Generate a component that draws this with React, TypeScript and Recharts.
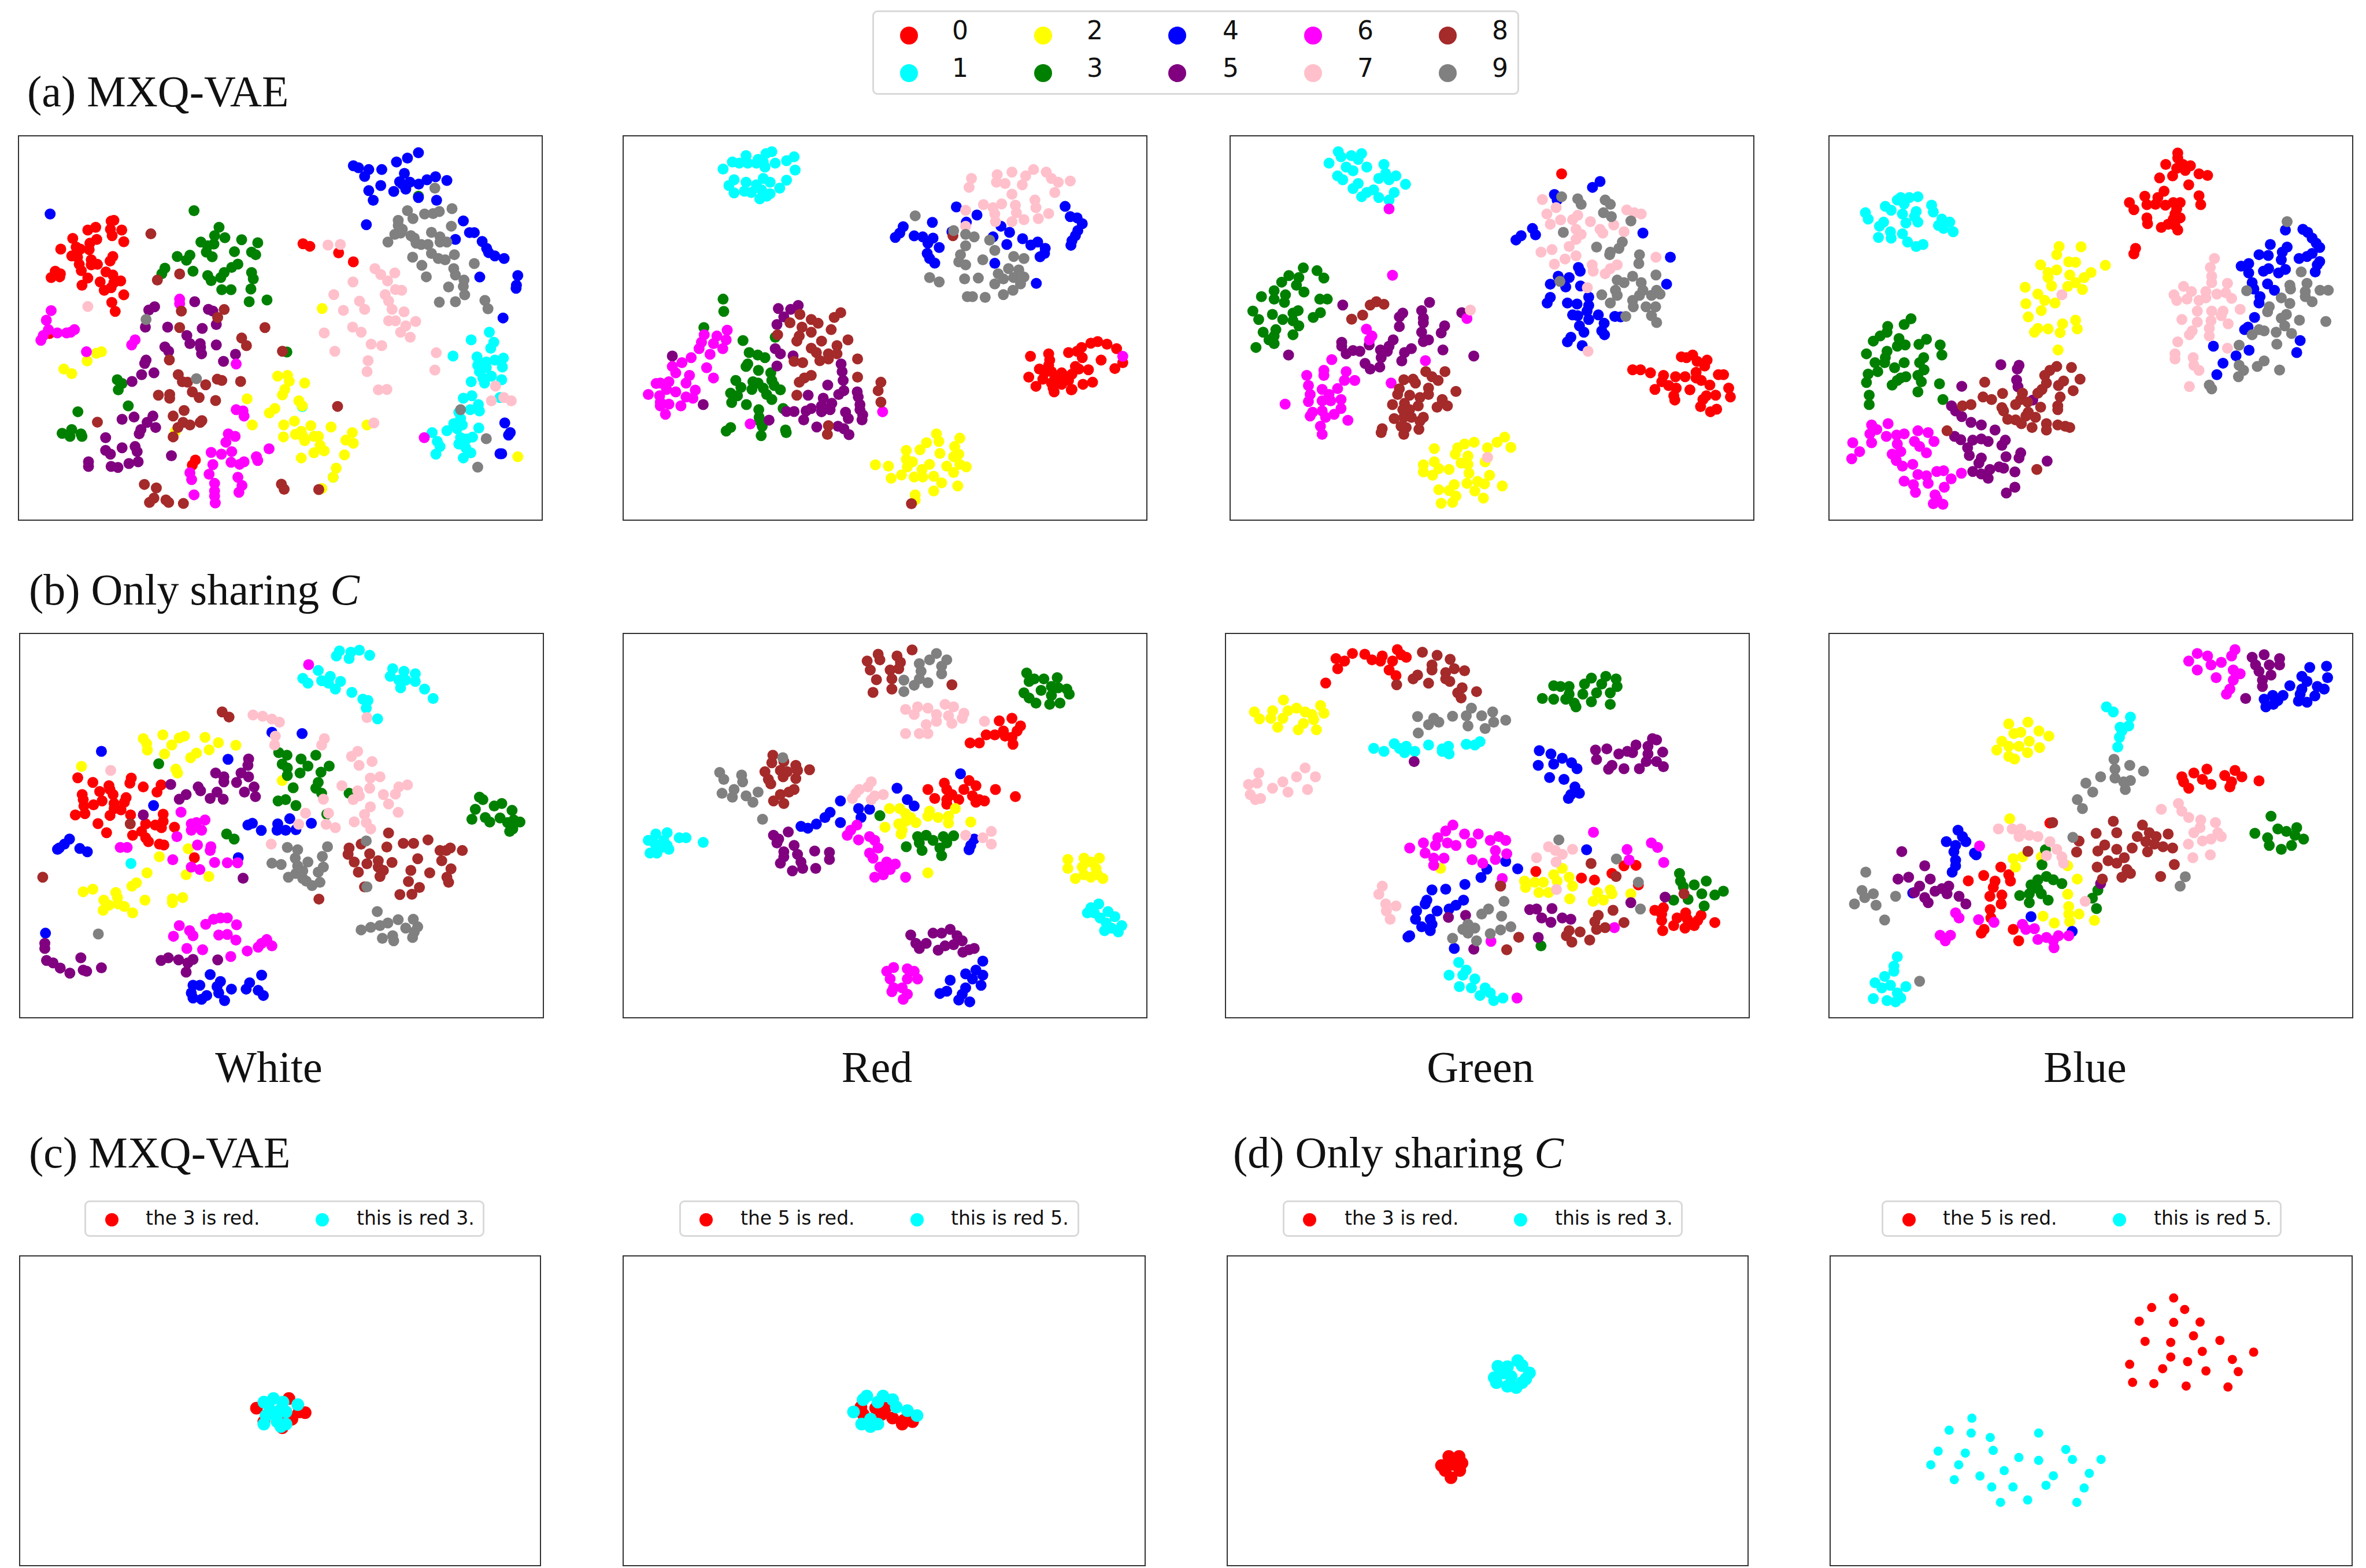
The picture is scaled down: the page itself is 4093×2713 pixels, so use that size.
import React from "react";
import { ScatterChart, Scatter, XAxis, YAxis } from "recharts";

type Pt = [number, number];

const digitLabels = ["0", "1", "2", "3", "4", "5", "6", "7", "8", "9"];
const digitColors = ["#ff0000", "#00ffff", "#ffff00", "#008000", "#0000ff", "#800080", "#ff00ff", "#ffc0cb", "#a52a2a", "#808080"];
const pairColors = ["#ff0000", "#00ffff"];
const columnNames = ["White", "Red", "Green", "Blue"];

// (a) MXQ-VAE, one list per digit
const mxqWhite: Pt[][] = [
  [[298,355],[290,358],[288,390],[321,393],[293,415],[327,439],[222,393],[245,382],[178,426],[248,430],[228,445],[188,460],[200,468],[143,468],[226,470],[175,495],[192,500],[295,497],[287,515],[232,510],[197,528],[232,530],[250,528],[203,553],[127,555],[115,580],[142,565],[140,577],[275,558],[295,570],[222,582],[205,610],[258,597],[318,593],[298,600],[290,620],[270,630],[327,648],[292,678],[302,713],[850,447],[870,457],[954,483],[997,518],[536,1298],[527,1318],[110,800]],
  [[1394,795],[1341,825],[1407,835],[1398,858],[1288,889],[1358,892],[1435,897],[1410,905],[1385,912],[1360,925],[1432,932],[1385,935],[1365,950],[1400,968],[1375,975],[1430,982],[1341,990],[1380,995],[1425,1052],[1318,1055],[1343,1045],[1362,1080],[1338,1100],[1365,1105],[1305,1110],[1310,1135],[1290,1155],[1315,1160],[1300,1175],[1270,1183],[1227,1190],[1363,1172],[1345,1208],[1310,1210],[1328,1215],[1242,1225],[1250,1245],[1305,1235],[1325,1250],[1238,1275],[1340,1270],[1318,1290],[848,1088],[938,1366]],
  [[906,702],[262,872],[247,878],[220,908],[152,940],[175,958],[776,968],[805,965],[810,988],[855,995],[797,1020],[790,1042],[687,1057],[838,1065],[848,1085],[768,1095],[752,1113],[702,1160],[794,1160],[825,1145],[873,1163],[932,1168],[845,1185],[828,1197],[850,1205],[882,1205],[895,1205],[793,1207],[855,1222],[994,1190],[975,1220],[997,1232],[900,1240],[882,1270],[912,1262],[971,1278],[845,1290],[947,1330],[938,1366],[1037,1160],[1477,1285],[478,1185],[905,1410]],
  [[532,317],[605,382],[592,415],[622,423],[671,431],[718,443],[552,440],[590,448],[572,455],[568,480],[650,478],[585,498],[700,480],[712,490],[483,497],[520,492],[510,512],[660,527],[642,540],[447,543],[438,565],[529,555],[700,560],[572,572],[620,560],[610,580],[582,592],[705,585],[613,628],[640,628],[698,625],[693,675],[745,668],[803,873],[308,982],[322,997],[311,1022],[340,1085],[193,1108],[175,1178],[147,1193],[202,1195],[170,1205],[205,1205],[1187,260]],
  [[1187,89],[1155,110],[1123,125],[997,140],[1012,148],[1042,155],[1080,155],[1030,182],[1146,170],[1237,183],[1212,195],[1270,198],[1132,203],[1162,205],[1188,212],[1140,212],[1077,218],[1042,238],[1150,232],[1115,241],[1187,265],[1055,276],[1240,276],[112,330],[1035,372],[1318,357],[1295,430],[1336,403],[1350,403],[1373,438],[1386,465],[1392,482],[1410,495],[1437,505],[1366,578],[1477,572],[1473,610],[1472,622],[1434,739],[1439,1152],[1455,1190],[1450,1200],[1430,1273],[1425,1273]],
  [[534,675],[417,695],[400,708],[574,705],[587,712],[597,765],[390,775],[455,775],[556,780],[511,808],[520,840],[550,840],[597,845],[551,855],[447,853],[458,870],[554,880],[653,882],[618,910],[392,905],[388,918],[415,955],[379,962],[351,989],[322,1138],[357,1129],[412,1125],[395,1150],[420,1170],[377,1178],[372,1195],[274,1210],[322,1250],[360,1245],[274,1260],[288,1275],[366,1265],[466,1281],[224,1305],[224,1323],[369,1305],[342,1312],[290,1323],[310,1327]],
  [[115,710],[490,665],[490,683],[101,748],[107,785],[133,798],[183,785],[160,798],[172,795],[92,808],[85,827],[360,825],[350,845],[218,872],[655,920],[655,1100],[675,1105],[678,1125],[632,1195],[652,1205],[625,1228],[642,1265],[582,1268],[612,1275],[751,1254],[714,1285],[718,1300],[640,1307],[678,1305],[665,1315],[587,1316],[576,1354],[520,1348],[525,1375],[660,1366],[672,1398],[663,1425],[592,1390],[592,1420],[592,1440],[532,1435],[594,1467],[1204,1210]],
  [[923,452],[959,450],[1060,545],[1118,562],[1077,568],[1097,593],[996,597],[1120,627],[1138,630],[940,647],[1090,647],[1015,673],[1100,672],[222,694],[968,709],[1030,705],[1110,705],[1145,715],[1100,750],[1120,750],[1179,753],[995,775],[1150,770],[1020,795],[1135,795],[912,798],[1163,815],[1049,842],[1080,848],[943,870],[1239,876],[1040,907],[1235,944],[1037,950],[1412,1007],[1070,1022],[1095,1020],[1436,1052],[1458,1065],[1400,1065],[1057,1152]],
  [[406,408],[425,590],[490,566],[495,712],[620,706],[601,737],[490,777],[739,777],[671,818],[685,848],[790,870],[460,904],[486,962],[498,990],[513,992],[600,980],[613,985],[668,989],[566,1002],[527,1030],[428,1043],[461,1040],[461,1055],[547,1052],[595,1064],[951,1087],[503,1103],[471,1125],[500,1150],[555,1143],[250,1149],[485,1170],[520,1160],[550,1150],[471,1207],[387,1394],[422,1408],[787,1393],[795,1413],[896,1414],[415,1448],[402,1465],[450,1455],[458,1465],[501,1469]],
  [[1235,228],[1285,309],[1155,317],[1248,320],[1230,328],[1205,330],[1171,348],[1128,355],[1128,375],[1283,378],[1140,390],[1225,402],[1118,410],[1135,405],[1165,415],[1250,420],[1175,425],[1098,440],[1180,445],[1250,440],[1270,440],[1195,450],[1215,450],[1225,485],[1292,490],[1245,505],[1170,500],[1265,510],[1197,532],[1350,525],[1290,545],[1295,570],[1210,577],[1320,590],[1275,617],[1318,615],[1322,648],[1248,677],[1295,675],[1381,670],[1390,703],[392,745],[539,978],[1385,1214],[1360,1326],[1310,1100]],
];

const mxqRed: Pt[][] = [
  [[1209,890],[1262,880],[1265,905],[1262,925],[1235,940],[1250,955],[1270,950],[1300,955],[1204,972],[1245,980],[1280,975],[1330,960],[1350,940],[1378,943],[1320,875],[1358,855],[1385,838],[1405,832],[1432,842],[1460,860],[1360,895],[1345,870],[1415,905],[1478,915],[1455,938],[1225,1008],[1275,1015],[1300,1000],[1330,1020],[1362,1000],[1390,992],[1278,1030],[1328,1022],[1320,985],[1305,965],[1340,930],[1270,995]],
  [[455,85],[438,92],[380,100],[415,115],[520,105],[340,125],[498,120],[385,130],[430,125],[465,130],[360,130],[410,130],[435,145],[313,153],[523,157],[345,195],[498,197],[430,190],[380,205],[450,205],[330,218],[410,215],[375,240],[425,235],[478,228],[345,247],[395,245],[450,250],[420,270],[440,260]],
  [[935,1195],[1003,1212],[942,1225],[906,1230],[988,1245],[847,1260],[887,1258],[945,1272],[1000,1275],[985,1285],[847,1295],[757,1317],[795,1322],[865,1305],[850,1325],[965,1322],[1022,1325],[1003,1315],[915,1315],[893,1335],[985,1347],[833,1357],[803,1370],[870,1365],[895,1365],[927,1362],[950,1388],[997,1400],[927,1420],[873,1435],[873,1455]],
  [[313,665],[315,713],[257,777],[371,828],[389,875],[414,885],[435,895],[385,920],[380,930],[416,945],[452,955],[455,985],[350,985],[400,990],[415,995],[365,1012],[397,1020],[430,1015],[462,1005],[480,1022],[335,1035],[440,1040],[355,1045],[455,1060],[338,1072],[381,1080],[488,1095],[417,1100],[418,1130],[420,1145],[427,1165],[335,1170],[322,1184],[495,1180],[497,1190],[424,1202],[465,815]],
  [[993,302],[1310,300],[1053,334],[1325,340],[1345,345],[923,363],[1360,368],[1022,362],[838,380],[1123,378],[1347,395],[828,405],[980,400],[1148,402],[815,422],[870,416],[1340,415],[895,420],[925,425],[1100,420],[1186,427],[1330,435],[1327,453],[910,445],[1140,450],[1230,440],[1210,452],[943,462],[1252,465],[1250,485],[1237,498],[908,485],[915,505],[930,523],[1105,524],[1226,603]],
  [[474,702],[532,690],[510,705],[490,735],[470,765],[165,889],[465,860],[480,880],[517,888],[470,928],[657,920],[660,950],[663,985],[618,1003],[665,1025],[650,1040],[704,1030],[707,1050],[561,1043],[605,1055],[255,1080],[712,1080],[630,1075],[600,1085],[625,1100],[570,1095],[555,1105],[498,1107],[520,1107],[600,1108],[712,1100],[670,1110],[678,1135],[720,1120],[718,1140],[548,1140],[447,1141],[586,1168],[648,1165],[665,1175],[680,1198]],
  [[325,787],[258,805],[295,810],[250,835],[322,825],[285,840],[243,860],[312,860],[275,882],[220,895],[193,915],[165,930],[265,935],[175,955],[215,965],[285,975],[130,995],[155,990],[118,997],[205,995],[148,1020],[175,1030],[232,1023],[95,1040],[128,1045],[205,1050],[225,1055],[130,1070],[155,1078],[190,1085],[130,1085],[145,1118],[778,1108],[392,1156],[1478,890]],
  [[1037,190],[1030,225],[1112,175],[1110,205],[1135,210],[1155,165],[1195,180],[1218,155],[1255,165],[1270,190],[1290,205],[1325,200],[1185,215],[1155,252],[1280,245],[1222,275],[1225,305],[1072,293],[1125,290],[1100,305],[1165,295],[1168,325],[1105,330],[1020,315],[1262,328],[1232,348],[1190,352],[1155,360],[1107,360],[1020,378]],
  [[656,718],[637,737],[537,725],[570,745],[508,758],[590,760],[543,775],[628,785],[570,795],[535,810],[472,805],[600,830],[528,830],[677,825],[645,848],[570,858],[585,875],[620,880],[645,880],[705,900],[520,910],[545,915],[595,907],[620,900],[705,972],[570,965],[550,975],[535,992],[773,992],[765,1025],[528,1043],[773,1070],[620,1163],[617,1197],[862,1470],[983,415]],
  [[873,337],[985,395],[1020,410],[1045,420],[1090,433],[1020,455],[1105,473],[1005,490],[1160,497],[1190,505],[1070,510],[1000,518],[1020,530],[1145,545],[1175,550],[1115,565],[1190,578],[915,580],[943,597],[1017,585],[1057,582],[1130,585],[1160,580],[1105,605],[1180,605],[1158,630],[1040,655],[1077,658],[1130,647],[1025,655]],
];

const mxqGreen: Pt[][] = [
  [[988,172],[1337,892],[1370,885],[1352,895],[1383,910],[1412,905],[1405,928],[1195,943],[1218,943],[1247,955],[1380,953],[1445,962],[1460,962],[1285,965],[1320,970],[1348,970],[1380,975],[1280,990],[1395,985],[1420,1003],[1300,1005],[1475,1015],[1260,1020],[1322,1015],[1362,1022],[1315,1045],[1437,1043],[1410,1045],[1480,1050],[1400,1060],[1318,1062],[1393,1088],[1440,1098],[1422,1108]],
  [[337,85],[375,100],[405,92],[395,115],[310,130],[345,105],[470,135],[360,145],[420,145],[380,160],[335,180],[475,170],[505,180],[350,195],[455,190],[533,213],[395,210],[380,230],[440,235],[500,245],[420,245],[405,262],[455,265],[485,275],[485,195]],
  [[617,1253],[733,1228],[705,1235],[685,1250],[822,1208],[800,1228],[840,1248],[772,1250],[678,1275],[715,1282],[772,1288],[585,1317],[617,1305],[695,1310],[715,1315],[765,1305],[630,1332],[660,1335],[585,1345],[718,1350],[612,1358],[778,1358],[743,1382],[712,1390],[763,1392],[815,1400],[630,1415],[675,1395],[660,1418],[735,1420],[680,1440],[670,1465],[760,1448],[637,1468]],
  [[235,542],[275,553],[295,582],[193,572],[172,598],[222,580],[215,610],[150,632],[237,637],[183,648],[113,655],[150,665],[180,678],[283,665],[305,665],[88,712],[220,710],[145,725],[205,720],[285,718],[105,745],[175,745],[205,750],[264,737],[222,770],[155,785],[118,795],[205,805],[150,810],[135,825],[150,840],[97,855]],
  [[1100,202],[1078,225],[967,253],[975,275],[870,415],[855,432],[903,387],[912,412],[1225,405],[1305,500],[1037,540],[1042,555],[978,575],[1010,580],[955,606],[1000,617],[1043,613],[1294,606],[955,658],[946,680],[1067,657],[1005,680],[1033,684],[1067,690],[1062,712],[1095,727],[1020,727],[1035,730],[1067,745],[1143,733],[1160,735],[1112,760],[1040,770],[1053,795],[1105,790],[1113,805],[1015,815],[1005,833],[1048,848]],
  [[350,688],[603,678],[697,718],[525,720],[580,710],[515,735],[585,740],[585,758],[515,773],[647,770],[580,795],[637,798],[600,825],[585,832],[497,825],[347,835],[347,850],[427,845],[485,850],[642,865],[550,860],[530,875],[460,865],[380,867],[400,870],[360,880],[480,870],[192,885],[732,889],[462,895],[522,908],[415,918],[430,940],[458,932]],
  [[485,310],[495,571],[419,783],[435,810],[428,825],[712,741],[318,903],[591,907],[295,945],[295,965],[360,950],[245,965],[385,985],[355,985],[491,995],[250,1005],[290,1020],[335,1017],[255,1040],[310,1040],[250,1068],[345,1060],[290,1065],[182,1078],[315,1065],[345,1095],[262,1110],[290,1105],[325,1118],[300,1130],[255,1125],[365,1142],[285,1165],[290,1197]],
  [[932,273],[972,305],[945,330],[1178,314],[1200,325],[1220,330],[1035,335],[985,353],[1020,352],[1072,360],[955,370],[1140,373],[1030,390],[1100,390],[1045,410],[1170,400],[1108,405],[1030,430],[1010,458],[960,470],[928,480],[1030,494],[1263,500],[998,507],[967,527],[1077,530],[1080,555],[1150,530],[1130,545],[1115,565],[1063,620],[1065,870],[722,708],[772,1288]],
  [[430,688],[448,675],[470,685],[408,728],[376,744],[592,950],[648,950],[610,970],[528,982],[555,980],[628,985],[562,995],[515,1018],[600,1015],[680,1028],[510,1040],[545,1043],[600,1040],[575,1052],[640,1060],[530,1075],[495,1080],[625,1090],[655,1085],[570,1085],[525,1100],[545,1100],[500,1135],[528,1130],[585,1130],[550,1130],[575,1145],[520,1165],[465,1175],[572,1177],[462,1190],[535,1170],[528,1197]],
  [[988,262],[1035,270],[1045,292],[1115,275],[1130,292],[1110,325],[1133,340],[1190,357],[993,402],[1165,440],[1090,460],[1155,465],[1130,480],[1128,490],[1215,490],[1213,525],[1195,575],[1263,570],[1150,590],[1170,600],[983,595],[1220,600],[1145,630],[1265,630],[1225,630],[1105,648],[1150,650],[1250,650],[1275,645],[1215,650],[1130,680],[1195,670],[1197,695],[1234,695],[1262,695],[1250,730],[1265,757],[1175,733]],
];

const mxqBlue: Pt[][] = [
  [[1033,90],[1033,110],[998,135],[1048,135],[1070,140],[1030,150],[1055,158],[1095,172],[1120,178],[1018,180],[980,188],[1065,215],[993,240],[937,260],[975,265],[892,285],[1095,258],[1040,285],[1020,285],[943,293],[968,292],[997,295],[1100,293],[905,313],[1030,310],[1025,330],[943,345],[1040,345],[1020,350],[945,368],[1005,370],[1025,375],[985,383],[1033,393],[910,465],[905,487]],
  [[225,265],[215,275],[250,265],[275,262],[235,290],[180,300],[315,295],[197,315],[270,320],[320,322],[122,325],[230,330],[130,350],[345,350],[265,340],[175,362],[240,365],[275,362],[368,362],[163,378],[335,375],[350,387],[195,400],[378,400],[230,408],[160,422],[197,425],[245,440],[290,450],[270,458]],
  [[687,458],[751,459],[680,490],[715,518],[735,520],[633,530],[822,532],[655,560],[680,550],[655,580],[780,560],[718,570],[760,580],[735,600],[588,618],[665,613],[712,615],[755,627],[625,645],[645,670],[675,680],[590,683],[635,710],[597,735],[735,748],[697,762],[625,780],[655,782],[740,782],[615,795],[690,797],[684,865]],
  [[255,742],[235,765],[187,772],[185,795],[165,810],[145,830],[300,823],[220,820],[215,850],[238,845],[278,843],[340,845],[345,885],[185,870],[125,880],[180,895],[292,895],[178,915],[150,915],[235,915],[280,915],[207,935],[293,943],[158,950],[130,960],[240,970],[275,965],[225,975],[125,993],[215,985],[200,1003],[285,990],[338,998],[275,1030],[133,1043],[348,1060],[133,1080]],
  [[1347,393],[1398,390],[1412,402],[1425,425],[1303,450],[1437,445],[1447,462],[1352,460],[1270,490],[1297,493],[1338,480],[1335,510],[1425,485],[1410,497],[1387,505],[1240,525],[1218,535],[1447,517],[1440,530],[1240,562],[1283,555],[1298,545],[1327,562],[1347,548],[1434,558],[1250,600],[1295,605],[1255,625],[1315,630],[1273,655],[1270,680],[1257,737],[1238,775],[1228,785],[1137,850],[1390,828],[1241,866],[1380,875],[1203,888],[1165,917],[1147,962]],
  [[517,923],[570,925],[565,940],[563,983],[403,1008],[567,1010],[610,1062],[373,1085],[385,1105],[403,1127],[430,1150],[460,1160],[500,1180],[382,1205],[400,1218],[435,1220],[460,1215],[480,1225],[530,1220],[520,1240],[420,1250],[425,1280],[460,1290],[453,1310],[575,1270],[570,1290],[532,1285],[512,1325],[485,1335],[435,1343],[460,1353],[480,1370],[525,1330],[558,1345],[652,1302],[558,1405],[533,1428]],
  [[140,1160],[188,1155],[155,1178],[135,1195],[235,1195],[275,1183],[305,1190],[183,1205],[213,1200],[140,1230],[85,1230],[322,1225],[265,1225],[215,1235],[280,1245],[225,1265],[105,1265],[300,1270],[200,1275],[82,1293],[212,1300],[260,1315],[230,1322],[330,1343],[350,1340],[275,1355],[300,1360],[402,1350],[372,1372],[235,1381],[305,1390],[262,1395],[352,1405],[268,1425],[325,1435],[330,1450],[320,1470],[348,1472]],
  [[1140,505],[1128,540],[1132,575],[1132,600],[1178,603],[1050,615],[1073,635],[1115,635],[1173,640],[1147,645],[1022,648],[1190,662],[1060,665],[1115,660],[1095,670],[1030,670],[1215,705],[1090,712],[1132,712],[1165,712],[1160,730],[1045,745],[1130,750],[1090,755],[1180,762],[1075,790],[1125,780],[1067,805],[1125,810],[1033,833],[1178,858],[1025,880],[1025,900],[1078,895],[1080,925],[1095,945],[1067,1009],[695,648]],
  [[680,930],[660,945],[723,934],[645,965],[748,980],[470,992],[650,995],[700,987],[685,1005],[637,1020],[728,1025],[522,1036],[580,1035],[625,1035],[465,1050],[490,1060],[690,1050],[575,1060],[595,1070],[405,1085],[430,1080],[520,1092],[560,1080],[683,1085],[633,1090],[525,1105],[597,1110],[683,1100],[590,1125],[618,1130],[537,1138],[560,1140],[577,1155],[650,1155],[683,1160],[705,1165],[718,1170],[608,1170],[650,1180],[360,1183],[622,1335]],
  [[1352,360],[1393,558],[1234,632],[1360,610],[1410,603],[1362,625],[1448,630],[1472,630],[1405,635],[1405,655],[1335,660],[1425,675],[1360,682],[1300,695],[1295,715],[1350,725],[1335,740],[1388,748],[1465,753],[1345,770],[1270,785],[1250,805],[1285,790],[1320,795],[1365,800],[1322,842],[1212,846],[1285,908],[1265,930],[1212,925],[1225,945],[1330,944],[1210,970],[1125,1003],[1132,1018]],
];

// (b) Only sharing C
const onlyWhite: Pt[][] = [
  [[194,594],[350,595],[346,615],[238,612],[285,625],[385,630],[437,622],[288,640],[258,648],[425,650],[207,660],[297,660],[335,672],[265,685],[210,680],[240,700],[300,695],[330,690],[212,705],[320,720],[300,715],[288,742],[187,740],[215,735],[348,740],[443,737],[392,775],[253,774],[443,765],[420,780],[438,790],[476,788],[278,810],[380,805],[354,820],[392,830],[400,845],[432,855],[445,858],[534,908]],
  [[957,95],[948,115],[1015,92],[990,100],[1045,112],[985,125],[895,172],[850,203],[865,222],[930,195],[1112,165],[1145,175],[1178,185],[905,212],[925,222],[960,215],[1105,195],[945,245],[1130,210],[1150,210],[1135,240],[1178,215],[1205,245],[993,258],[1230,282],[1025,285],[1040,290],[1035,320],[1068,362],[349,931]],
  [[442,425],[505,430],[385,440],[565,435],[490,437],[468,465],[604,456],[395,460],[655,466],[397,485],[577,484],[540,497],[447,500],[523,515],[205,549],[480,560],[485,575],[790,605],[516,873],[432,904],[396,968],[510,975],[576,982],[365,1007],[352,1020],[238,1032],[210,1042],[305,1045],[310,1065],[270,1075],[390,1075],[470,1070],[500,1065],[312,1090],[285,1095],[470,1085],[330,1100],[268,1115],[354,1125]],
  [[780,495],[804,505],[888,505],[430,539],[845,520],[790,540],[865,548],[927,548],[805,555],[903,572],[842,575],[805,585],[895,612],[822,633],[888,635],[905,655],[985,655],[778,685],[800,680],[830,703],[920,737],[628,815],[650,835],[1365,670],[1375,680],[1430,695],[1408,705],[1353,718],[1460,722],[1343,757],[1382,750],[1425,752],[1395,768],[1465,760],[1447,770],[1483,768],[1462,795],[1453,805]],
  [[263,490],[632,521],[760,415],[848,420],[415,703],[703,773],[690,780],[729,801],[777,775],[812,755],[875,773],[775,800],[800,800],[830,798],[170,835],[155,855],[140,870],[135,875],[200,872],[222,885],[662,908],[100,1205],[580,1368],[610,1395],[530,1410],[550,1410],[600,1415],[730,1370],[695,1400],[525,1440],[685,1425],[720,1430],[642,1425],[570,1450],[605,1440],[735,1450],[530,1460],[622,1470],[555,1465]],
  [[692,520],[690,545],[596,575],[670,575],[620,590],[692,590],[465,620],[620,610],[657,612],[545,630],[708,630],[552,645],[680,650],[510,660],[600,650],[490,678],[580,675],[712,668],[618,678],[385,740],[676,989],[98,1245],[98,1265],[203,1302],[103,1312],[122,1322],[143,1342],[210,1350],[220,1355],[171,1362],[263,1341],[458,1302],[437,1312],[488,1310],[530,1308],[515,1322],[602,1310],[510,1358]],
  [[867,149],[495,729],[540,770],[565,760],[525,775],[555,800],[525,800],[483,825],[318,868],[338,868],[543,858],[582,865],[580,880],[471,916],[593,927],[630,928],[660,928],[525,945],[550,955],[610,1145],[630,1145],[590,1150],[567,1170],[657,1172],[490,1175],[520,1195],[530,1215],[473,1217],[605,1212],[630,1210],[655,1232],[745,1230],[730,1245],[760,1255],[720,1260],[512,1265],[558,1270],[688,1275],[640,1297]],
  [[705,347],[733,352],[760,363],[782,375],[770,430],[913,440],[905,465],[768,465],[1010,490],[992,510],[1052,530],[1014,545],[290,565],[1047,595],[1075,590],[964,625],[1155,622],[1130,630],[1045,635],[1010,645],[1085,660],[1120,658],[1015,665],[997,680],[910,678],[1100,697],[1047,708],[1128,730],[858,733],[925,733],[1030,738],[1000,767],[838,777],[918,777],[1035,770],[945,790],[1048,795],[758,855],[1037,357]],
  [[615,335],[635,355],[1100,811],[1215,838],[1020,855],[1143,852],[1173,852],[1095,866],[1280,870],[1250,880],[985,870],[1268,880],[1315,880],[982,895],[1045,893],[1185,912],[1000,925],[1070,920],[1110,927],[1037,932],[1255,920],[1070,945],[1085,958],[1012,965],[1165,958],[1282,952],[1220,968],[1075,982],[1270,985],[1275,1005],[1158,1002],[1190,1025],[1030,1023],[1133,1053],[1168,1052],[897,1071],[347,775],[92,985]],
  [[1035,842],[805,868],[835,877],[922,865],[907,903],[760,930],[787,935],[828,910],[865,925],[835,940],[910,945],[850,960],[895,965],[808,985],[850,990],[830,970],[900,1005],[860,1000],[877,1018],[1037,1023],[1067,1120],[1128,1152],[1172,1150],[1098,1165],[1075,1175],[1048,1182],[1020,1192],[1150,1185],[1185,1180],[1175,1200],[1112,1215],[1082,1225],[1170,1222],[1115,1235],[254,1208]],
];

const onlyRed: Pt[][] = [
  [[1155,360],[1118,370],[1180,390],[1170,410],[1130,410],[1105,425],[1080,425],[1135,430],[1155,435],[1158,462],[1060,457],[1033,457],[1030,605],[958,615],[1050,625],[910,640],[965,640],[1107,640],[1015,640],[980,660],[1040,665],[930,675],[1075,685],[965,680],[1000,680],[1050,690],[1165,668],[1060,680],[965,698]],
  [[117,815],[150,810],[95,840],[140,840],[185,830],[205,830],[115,855],[150,860],[255,848],[130,870],[155,875],[100,890],[120,890],[1408,1090],[1385,1105],[1375,1125],[1435,1120],[1412,1145],[1455,1140],[1430,1165],[1475,1175],[1425,1195],[1465,1200],[1445,1185],[1395,1125]],
  [[798,715],[828,715],[845,735],[915,725],[990,715],[860,750],[910,745],[940,750],[970,745],[1035,768],[845,765],[785,788],[825,775],[875,770],[970,772],[835,800],[832,815],[1318,915],[1365,910],[1410,910],[1385,925],[1318,950],[1360,945],[1400,950],[1365,975],[1385,985],[1340,990],[1420,990],[910,968],[1405,975]],
  [[1198,182],[1205,215],[1220,205],[1248,205],[1287,200],[1240,250],[1190,260],[1270,235],[1290,240],[1315,245],[1322,265],[1205,280],[1270,270],[1225,300],[1265,305],[1295,300],[770,743],[880,825],[905,820],[955,825],[985,822],[925,840],[885,850],[965,850],[847,865],[893,880],[945,870],[950,900]],
  [[1005,578],[820,635],[655,685],[850,680],[870,705],[708,715],[740,718],[625,730],[715,750],[610,750],[655,770],[585,776],[540,785],[560,792],[1045,835],[1035,860],[1030,877],[1070,1315],[1050,1350],[1020,1365],[1070,1370],[1040,1385],[975,1390],[1065,1410],[1020,1420],[965,1433],[945,1442],[1010,1445],[1000,1468],[1032,1475]],
  [[460,820],[475,835],[503,807],[520,860],[470,850],[580,882],[490,885],[623,887],[530,895],[623,915],[490,905],[540,925],[480,930],[583,950],[515,960],[545,950],[860,1212],[975,1190],[925,1205],[950,1205],[995,1215],[875,1245],[1010,1235],[905,1245],[985,1250],[960,1255],[885,1265],[1045,1265],[940,1272],[1012,1280],[1030,1270]],
  [[703,780],[685,800],[675,820],[708,838],[740,825],[755,840],[765,870],[740,890],[750,910],[790,925],[815,933],[770,945],[800,955],[780,975],[755,985],[845,985],[810,1340],[850,1345],[790,1355],[870,1355],[880,1385],[800,1385],[850,1385],[810,1420],[835,1420],[805,1435],[850,1445],[838,1465]],
  [[745,610],[735,630],[710,640],[700,655],[690,675],[780,660],[755,665],[745,680],[1095,805],[1020,820],[1070,830],[1095,855],[880,315],[845,325],[910,320],[960,305],[985,315],[1015,340],[870,345],[935,345],[970,350],[1010,360],[935,372],[980,380],[905,385],[845,420],[885,420],[910,420],[1075,372]],
  [[864,91],[765,108],[820,115],[733,135],[830,140],[770,130],[742,170],[800,170],[825,165],[760,208],[805,205],[750,258],[805,245],[980,228],[458,505],[455,535],[490,530],[525,545],[435,570],[480,565],[530,565],[565,562],[500,570],[445,600],[488,590],[525,597],[452,618],[520,640],[480,660],[505,650],[460,685],[490,695]],
  [[935,105],[965,130],[885,145],[915,130],[950,155],[950,185],[890,175],[885,205],[910,220],[840,210],[870,230],[840,255],[303,573],[367,583],[487,515],[315,600],[370,610],[310,655],[345,640],[415,650],[340,670],[380,665],[400,690],[428,757]],
];

const onlyGreen: Pt[][] = [
  [[519,90],[388,105],[424,108],[340,125],[475,115],[530,110],[545,120],[365,135],[445,130],[505,135],[470,135],[345,165],[495,170],[515,192],[310,221],[923,962],[1215,938],[1180,940],[1145,970],[1056,988],[1094,996],[1222,1015],[1295,1105],[1270,1115],[1290,1130],[1360,1125],[1405,1135],[1335,1145],[1395,1155],[1290,1155],[1365,1150],[1445,1163],[1325,1175],[1385,1175],[1358,1185],[1293,1195]],
  [[450,478],[510,460],[480,490],[525,478],[545,470],[570,490],[540,495],[610,465],[650,480],[668,470],[650,490],[720,462],[745,465],[760,452],[670,500],[698,1320],[720,1350],[710,1370],[745,1385],[670,1370],[700,1415],[735,1420],[775,1420],[760,1450],[790,1440],[800,1470],[827,1460]],
  [[187,288],[295,310],[225,320],[102,335],[155,330],[200,330],[250,335],[270,345],[305,340],[117,362],[150,360],[185,360],[275,365],[245,380],[170,395],[230,405],[283,405],[645,950],[1000,950],[975,975],[890,1000],[945,1005],[920,1005],[985,1000],[1020,985],[1030,1020],[893,1025],[932,1045],[960,1045],[1103,1045],[1140,1035],[1022,1070],[1145,1050],[1120,1075],[1090,1080],[1200,1050]],
  [[1127,195],[1157,205],[975,232],[1020,235],[995,235],[1085,202],[1065,225],[1115,225],[1160,235],[1100,260],[1060,265],[1140,260],[1020,265],[942,282],[975,285],[1010,285],[1035,300],[1085,295],[1040,315],[1140,305],[1342,970],[1345,1000],[1420,1000],[1385,1015],[1353,1022],[1470,1040],[1445,1055],[1407,1050],[1325,1075],[1367,1072],[1414,1098],[938,1255]],
  [[933,487],[967,500],[1000,517],[930,545],[975,540],[1027,535],[1043,558],[963,593],[1005,600],[1037,630],[1050,655],[1025,660],[1018,675],[835,923],[870,952],[780,953],[763,986],[716,1013],[1071,877],[620,1035],[660,1032],[605,1075],[600,1090],[712,1075],[690,1095],[670,1110],[635,1118],[575,1118],[615,1150],[572,1150],[590,1180],[620,1170],[615,1195],[555,1215],[550,1220],[685,1265]],
  [[568,530],[1263,440],[1275,445],[1250,470],[1215,465],[1130,480],[1097,485],[1100,522],[1190,490],[1165,500],[1205,495],[1293,493],[1250,500],[1275,530],[1145,545],[1225,558],[1135,560],[1180,558],[1295,550],[1245,530],[820,1018],[1200,1085],[1300,1063],[905,1112],[925,1110],[970,1108],[940,1145],[967,1162],[1000,1145],[1025,1150],[668,1143],[718,1135],[930,1222],[742,1268]],
  [[681,780],[1091,808],[660,803],[715,815],[755,815],[637,830],[595,850],[815,825],[665,850],[690,860],[735,850],[555,870],[630,860],[790,840],[835,840],[1260,850],[1278,868],[1189,876],[600,890],[805,880],[838,893],[625,910],[655,910],[737,916],[805,915],[1195,917],[768,930],[625,938],[1296,927],[825,990],[1152,1183],[792,1237],[868,1460]],
  [[960,865],[980,880],[1030,875],[1000,895],[925,908],[982,925],[475,1020],[465,1052],[485,1090],[515,1098],[487,1118],[498,1150],[983,1033],[115,575],[250,555],[225,590],[280,590],[110,615],[85,620],[185,610],[155,635],[90,660],[120,675],[200,650],[257,640],[105,680]],
  [[592,100],[635,112],[673,128],[620,150],[685,165],[620,170],[715,173],[660,180],[578,190],[660,205],[565,205],[610,222],[517,228],[672,215],[708,240],[750,255],[695,260],[705,280],[1084,931],[1157,982],[820,1020],[1355,1050],[1148,1115],[1105,1135],[1095,1160],[1180,1163],[1125,1183],[1020,1195],[1052,1200],[1100,1190],[1012,1215],[1080,1232],[1028,1240],[873,1221],[838,1270]],
  [[990,838],[1158,913],[1222,1005],[578,353],[625,360],[735,320],[610,385],[640,375],[680,352],[720,350],[765,350],[797,335],[835,367],[800,375],[580,418],[725,390],[775,400],[1228,1110],[830,1080],[785,1110],[765,1130],[823,1138],[725,1170],[710,1190],[745,1185],[850,1180],[820,1192],[790,1207],[680,1225],[750,1235],[725,1205]],
];

const onlyBlue: Pt[][] = [
  [[1118,560],[1045,590],[1080,575],[1170,585],[1200,565],[1220,590],[1050,610],[1105,600],[1270,606],[1130,620],[1190,610],[1065,635],[1185,630],[467,978],[517,945],[540,975],[500,1000],[545,1000],[422,999],[495,1025],[520,1055],[485,1060],[518,1090],[486,1112],[488,1145],[468,1190],[460,1205],[553,1190],[569,1235],[660,772]],
  [[825,315],[845,335],[895,355],[890,390],[865,395],[870,410],[863,435],[858,473],[215,1298],[205,1335],[205,1355],[178,1375],[150,1400],[195,1410],[240,1415],[170,1420],[215,1440],[145,1462],[185,1470],[210,1475],[225,1460]],
  [[596,375],[540,382],[628,410],[555,420],[657,430],[575,415],[520,450],[600,450],[505,485],[630,475],[540,470],[570,470],[595,495],[540,510],[557,520],[543,755],[580,905],[553,912],[560,945],[635,905],[712,940],[740,992],[712,1052],[715,1100],[640,1138],[745,1130],[715,1130],[790,1155],[673,1165],[718,1160]],
  [[1305,745],[1258,812],[1325,795],[1350,805],[1380,790],[1295,830],[1400,835],[1375,820],[1300,860],[1335,875],[1365,860],[647,877],[637,936],[650,982],[625,995],[670,995],[695,1010],[605,1015],[625,1030],[600,1050],[572,1057],[635,1050],[655,1075],[600,1085],[800,1036],[784,1067],[796,1108]],
  [[1418,160],[1467,155],[1395,195],[1470,200],[1410,215],[1360,232],[1440,235],[1395,245],[1460,245],[1340,270],[1433,272],[1390,265],[1310,270],[1285,285],[1385,292],[1325,290],[1410,297],[1290,315],[1312,305],[392,800],[405,825],[358,845],[415,845],[385,860],[380,885],[440,890],[445,897],[385,918],[385,940],[375,965],[260,1047],[605,1140],[725,1198]],
  [[1250,120],[1285,110],[1330,125],[1260,150],[1300,150],[1330,150],[1270,175],[1305,190],[1280,210],[1280,235],[1231,282],[228,884],[295,940],[248,985],[217,992],[311,992],[280,1020],[365,1020],[345,1030],[325,1040],[265,1045],[360,1050],[395,1060],[295,1065],[305,1085],[415,1090],[808,1010]],
  [[1200,90],[1190,115],[1090,105],[1120,115],[1065,135],[1160,140],[1130,150],[1090,170],[1195,170],[1215,185],[1145,200],[1195,210],[1185,245],[1175,265],[455,862],[385,1125],[395,1145],[452,1152],[497,1162],[580,1170],[590,1190],[615,1187],[340,1213],[370,1213],[355,1235],[625,1230],[650,1222],[670,1235],[685,1215],[715,1215],[672,1262]],
  [[1035,695],[985,718],[1045,725],[1065,750],[1100,760],[510,795],[550,795],[575,795],[1143,770],[1098,790],[1080,810],[570,825],[600,820],[625,825],[1150,810],[1130,835],[1160,825],[660,845],[1105,842],[1064,855],[680,875],[695,905],[650,900],[700,930],[1128,897],[1077,908],[763,1080]],
  [[845,765],[668,770],[930,780],[795,812],[855,810],[1005,815],[745,843],[915,825],[950,810],[970,825],[940,845],[820,858],[965,855],[596,883],[738,886],[800,882],[900,870],[990,865],[855,875],[1018,870],[945,885],[877,908],[830,920],[855,930],[1023,935],[798,945],[885,955],[895,970],[983,982],[870,985],[813,992]],
  [[847,521],[893,545],[933,568],[850,560],[808,590],[850,595],[895,605],[875,610],[765,615],[880,640],[785,650],[740,680],[755,715],[727,828],[123,965],[1055,983],[1040,1020],[112,1037],[145,1050],[210,1060],[120,1065],[90,1090],[153,1095],[178,1153],[280,1394]],
];

// (c) and (d): first list is "the N is red.", second is "this is red N."
const mxqThree: Pt[][] = [
  [[332,920],[376,880],[398,938],[390,935],[375,950],[342,975],[367,1000],[380,965]],
  [[342,895],[355,880],[368,895],[388,905],[350,925],[365,925],[345,950],[358,950],[372,935],[342,985],[360,975],[372,985],[365,995]],
];
const mxqFive: Pt[][] = [
  [[1152,915],[1155,945],[1172,920],[1185,920],[1180,945],[1195,960],[1210,970],[1222,975],[1208,985]],
  [[1160,870],[1182,870],[1155,885],[1195,885],[1175,895],[1200,915],[1215,930],[1228,950],[1142,935],[1165,965],[1153,985],[1175,985],[1165,995]],
];
const onlyThree: Pt[][] = [
  [[320,1118],[334,1118],[310,1155],[325,1150],[338,1145],[315,1175],[335,1175],[323,1205]],
  [[414,725],[387,748],[400,750],[420,745],[395,775],[430,775],[382,795],[405,790],[425,800],[385,815],[400,830],[412,835],[420,815]],
];
const onlyFive: Pt[][] = [
  [[1308,468],[1278,507],[1323,515],[1261,563],[1308,568],[1344,567],[1335,623],[1371,642],[1269,646],[1304,650],[1417,690],[1347,687],[1304,710],[1388,720],[1327,729],[1248,740],[1293,758],[1352,767],[1396,770],[1252,814],[1281,819],[1325,829],[1382,833]],
  [[1033,961],[1002,1010],[1032,1022],[1124,1022],[1058,1040],[987,1096],[1024,1104],[1062,1093],[1161,1089],[1097,1122],[1124,1134],[1170,1130],[1209,1130],[977,1152],[1015,1152],[1077,1176],[1193,1187],[1044,1198],[1144,1197],[1009,1213],[1060,1243],[1089,1243],[1134,1236],[1186,1247],[1072,1306],[1109,1296],[1176,1306]],
];

const serif = "'Liberation Serif', serif";
const sans = "'DejaVu Sans', sans-serif";

function Panel({ left, top, width, height, xDomain, yDomain, groups, colors, r }: any) {
  return (
    <div style={{ position: "absolute", left, top, width, height }}>
      <ScatterChart width={width} height={height} margin={{ top: 0, right: 0, bottom: 0, left: 0 }}>
        <XAxis type="number" dataKey="x" domain={xDomain} hide />
        <YAxis type="number" dataKey="y" domain={yDomain} reversed hide />
        {groups.map((pts: Pt[], i: number) => (
          <Scatter
            key={i}
            data={pts.map(([x, y]) => ({ x, y }))}
            fill={colors[i]}
            isAnimationActive={false}
            shape={(p: any) => <circle cx={p.cx} cy={p.cy} r={r} fill={colors[i]} />}
          />
        ))}
      </ScatterChart>
      <div style={{ position: "absolute", inset: 0, border: "2.5px solid #333", boxSizing: "border-box" }} />
    </div>
  );
}

function Label({ x, baseline, center, children }: any) {
  // line height 1: the baseline of Liberation Serif sits at 0.8375em
  const size = 76;
  return (
    <div
      style={{
        position: "absolute",
        left: x,
        top: baseline - size * 0.8375,
        fontFamily: serif,
        fontSize: size,
        lineHeight: 1,
        whiteSpace: "nowrap",
        color: "#111",
        transform: center ? "translateX(-50%)" : undefined,
      }}
    >
      {children}
    </div>
  );
}

function Dot({ x, y, r, color }: any) {
  return (
    <div style={{ position: "absolute", left: x - r, top: y - r, width: 2 * r, height: 2 * r, borderRadius: "50%", background: color }} />
  );
}

function LegendText({ x, y, size, children }: any) {
  return (
    <div style={{ position: "absolute", left: x, top: y - size / 2, fontFamily: sans, fontSize: size, lineHeight: 1, whiteSpace: "nowrap", color: "#111" }}>
      {children}
    </div>
  );
}

function Box({ left, top, width, height }: any) {
  return (
    <div style={{ position: "absolute", left, top, width, height, boxSizing: "border-box", border: "3px solid #d9d9d9", borderRadius: 9, background: "#fff" }} />
  );
}

function PairLegend({ left, digit, markA, markB, textA, textB }: any) {
  return (
    <>
      <Box left={left} top={2077} width={692} height={63} />
      <Dot x={markA} y={2110} r={11.5} color={pairColors[0]} />
      <LegendText x={textA} y={2107} size={33}>{`the ${digit} is red.`}</LegendText>
      <Dot x={markB} y={2110} r={11.5} color={pairColors[1]} />
      <LegendText x={textB} y={2107} size={33}>{`this is red ${digit}.`}</LegendText>
    </>
  );
}

const legendCols = [1572, 1804, 2036, 2271, 2504];
const legendTextCols = [1647, 1880, 2115, 2348, 2581];

export default function App() {
  const big = { width: 908, height: 667, r: 9.5 };
  const bigPanels = [
    { left: 31, top: 234, xDomain: [18, 1550], yDomain: [20, 1537], groups: mxqWhite },
    { left: 1077, top: 234, xDomain: [20, 1550], yDomain: [20, 1537], groups: mxqRed },
    { left: 2127, top: 234, xDomain: [20, 1550], yDomain: [20, 1537], groups: mxqGreen },
    { left: 3163, top: 234, xDomain: [14, 1545], yDomain: [20, 1537], groups: mxqBlue },
    { left: 33, top: 1095, xDomain: [23, 1553], yDomain: [24, 1540], groups: onlyWhite },
    { left: 1077, top: 1095, xDomain: [20, 1550], yDomain: [24, 1540], groups: onlyRed },
    { left: 2119, top: 1095, xDomain: [16, 1547], yDomain: [24, 1540], groups: onlyGreen },
    { left: 3163, top: 1095, xDomain: [14, 1545], yDomain: [24, 1540], groups: onlyBlue },
  ];
  const smallPanels = [
    { left: 33, width: 903, xDomain: [10, 718], groups: mxqThree, r: 11 },
    { left: 1077, width: 905, xDomain: [829, 1538], groups: mxqFive, r: 11 },
    { left: 2122, width: 903, xDomain: [17, 729], groups: onlyThree, r: 11 },
    { left: 3165, width: 905, xDomain: [839, 1552], groups: onlyFive, r: 8 },
  ];
  const columnCenters = [465, 1517, 2561, 3607];

  return (
    <div style={{ position: "absolute", left: 0, top: 0, width: 4093, height: 2713, background: "#fff", overflow: "hidden" }}>
      <Label x={47} baseline={184}>(a) MXQ-VAE</Label>
      <Label x={50} baseline={1046}>(b) Only sharing <i>C</i></Label>
      <Label x={50} baseline={2020}>(c) MXQ-VAE</Label>
      <Label x={2133} baseline={2020}>(d) Only sharing <i>C</i></Label>
      {columnNames.map((name, i) => (
        <Label key={name} x={columnCenters[i]} baseline={1872} center>{name}</Label>
      ))}

      {bigPanels.map((p, i) => (
        <Panel key={i} left={p.left} top={p.top} width={big.width} height={big.height} xDomain={p.xDomain} yDomain={p.yDomain} groups={p.groups} colors={digitColors} r={big.r} />
      ))}
      {smallPanels.map((p, i) => (
        <Panel key={i} left={p.left} top={2172} width={p.width} height={538} xDomain={p.xDomain} yDomain={[293, 1568]} groups={p.groups} colors={pairColors} r={p.r} />
      ))}

      <Box left={1509} top={18} width={1119} height={146} />
      {digitLabels.map((d, i) => {
        const col = Math.floor(i / 2);
        const row = i % 2;
        return (
          <React.Fragment key={d}>
            <Dot x={legendCols[col]} y={row ? 126 : 61} r={15.5} color={digitColors[i]} />
            <LegendText x={legendTextCols[col]} y={row ? 118 : 53} size={44}>{d}</LegendText>
          </React.Fragment>
        );
      })}

      <PairLegend left={146} digit={3} markA={193} markB={557} textA={252} textB={617} />
      <PairLegend left={1175} digit={5} markA={1221} markB={1586} textA={1281} textB={1645} />
      <PairLegend left={2219} digit={3} markA={2265} markB={2630} textA={2326} textB={2690} />
      <PairLegend left={3255} digit={5} markA={3302} markB={3666} textA={3361} textB={3726} />
    </div>
  );
}
